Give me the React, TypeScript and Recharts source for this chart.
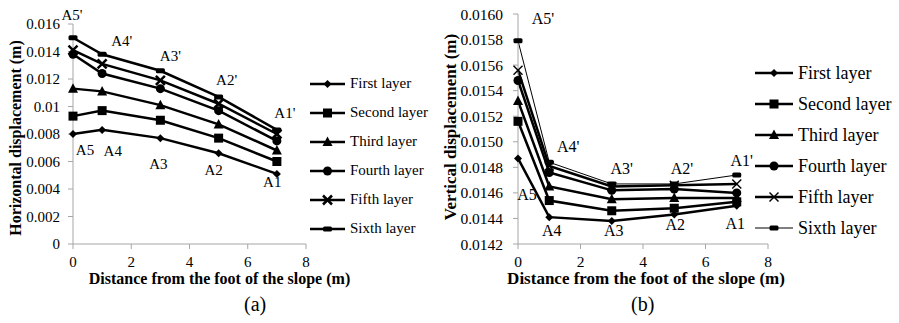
import React from 'react';
import {
  LineChart,
  Line,
  XAxis,
  YAxis,
  Label,
  Legend,
  ReferenceDot,
} from 'recharts';

const distances = [0, 1, 3, 5, 7];
const layerNames = ['First layer', 'Second layer', 'Third layer', 'Fourth layer', 'Fifth layer', 'Sixth layer'];

// horizontal displacement (m), chart (a)
const horizFirst = [0.008, 0.0083, 0.0077, 0.0066, 0.0051];
const horizSecond = [0.0093, 0.0097, 0.009, 0.0077, 0.006];
const horizThird = [0.0113, 0.0111, 0.0101, 0.0087, 0.0068];
const horizFourth = [0.0138, 0.0124, 0.0113, 0.0097, 0.0075];
const horizFifth = [0.0141, 0.0131, 0.0119, 0.0102, 0.008];
const horizSixth = [0.015, 0.0138, 0.0126, 0.0107, 0.0083];

// vertical displacement (m), chart (b)
const vertFirst = [0.01487, 0.01441, 0.01438, 0.01443, 0.0145];
const vertSecond = [0.01516, 0.01454, 0.01446, 0.01448, 0.01453];
const vertThird = [0.01532, 0.01465, 0.01455, 0.01456, 0.01456];
const vertFourth = [0.01548, 0.01476, 0.01462, 0.01463, 0.0146];
const vertFifth = [0.01556, 0.01481, 0.01465, 0.01466, 0.01467];
const vertSixth = [0.01579, 0.01484, 0.01467, 0.01467, 0.01474];

const xTicks = [0, 2, 4, 6, 8];
const horizTicks = [0, 0.002, 0.004, 0.006, 0.008, 0.01, 0.012, 0.014, 0.016];
const vertTicks = [0.0142, 0.0144, 0.0146, 0.0148, 0.015, 0.0152, 0.0154, 0.0156, 0.0158, 0.016];

const topLabels = ["A5'", "A4'", "A3'", "A2'", "A1'"];
const bottomLabels = ['A5', 'A4', 'A3', 'A2', 'A1'];

const FONT = "'Liberation Serif', 'Times New Roman', serif";
const AXIS_GRAY = '#a6a6a6';
const shapes = ['diamond', 'square', 'triangle', 'circle', 'cross', 'dash'];

const buildRows = (series: number[][]) =>
  distances.map((d, i) => {
    const row: Record<string, number> = { d };
    series.forEach((s, k) => (row['l' + k] = s[i]));
    return row;
  });

const rowsH = buildRows([horizFirst, horizSecond, horizThird, horizFourth, horizFifth, horizSixth]);
const rowsV = buildRows([vertFirst, vertSecond, vertThird, vertFourth, vertFifth, vertSixth]);

function Marker({ shape, cx, cy, thin }: { shape: string; cx: number; cy: number; thin?: boolean }) {
  switch (shape) {
    case 'diamond':
      return <polygon points={`${cx},${cy - 4} ${cx + 4},${cy} ${cx},${cy + 4} ${cx - 4},${cy}`} fill="#000" />;
    case 'square':
      return <rect x={cx - 4.5} y={cy - 4.5} width={9} height={9} fill="#000" />;
    case 'triangle':
      return <polygon points={`${cx},${cy - 5.5} ${cx + 5},${cy + 4} ${cx - 5},${cy + 4}`} fill="#000" />;
    case 'circle':
      return <circle cx={cx} cy={cy} r={4.5} fill="#000" />;
    case 'cross':
      return (
        <g stroke="#000" strokeWidth={thin ? 1.4 : 2.5}>
          <line x1={cx - 4.5} y1={cy - 4.5} x2={cx + 4.5} y2={cy + 4.5} />
          <line x1={cx - 4.5} y1={cy + 4.5} x2={cx + 4.5} y2={cy - 4.5} />
        </g>
      );
    default:
      return <rect x={cx - 4.5} y={cy - 2.5} width={9} height={5} rx={1.5} fill="#000" />;
  }
}

const dotFor = (shape: string, thin?: boolean) => (p: any) => (
  <Marker key={`${shape}-${p.index}`} shape={shape} cx={p.cx} cy={p.cy} thin={thin} />
);

const makeLegend = (fontSize: number, rowH: number, lineW: number, thinLast: boolean) => () => (
  <div style={{ fontFamily: FONT, fontSize, color: '#000', lineHeight: 1 }}>
    {layerNames.map((name, i) => {
      const thin = thinLast && i >= 4;
      return (
        <div key={name} style={{ display: 'flex', alignItems: 'center', height: rowH }}>
          <svg width={lineW + 2} height={14} style={{ display: 'block' }}>
            <line x1={1} x2={lineW + 1} y1={7} y2={7} stroke="#000" strokeWidth={thinLast && i === 5 ? 1 : 2.5} />
            <Marker shape={shapes[i]} cx={lineW / 2 + 1} cy={7} thin={thin} />
          </svg>
          <span style={{ marginLeft: 4, whiteSpace: 'nowrap', fontFamily: FONT }}>{name}</span>
        </div>
      );
    })}
  </div>
);

const annot = (text: string, dx: number, dy: number, size: number) => (p: any) => (
  <text
    x={p.viewBox.x + (p.viewBox.width || 0) / 2 + dx}
    y={p.viewBox.y + (p.viewBox.height || 0) / 2 + dy}
    textAnchor="middle"
    dominantBaseline="central"
    fontFamily={FONT}
    fontSize={size}
    fill="#000"
  >
    {text}
  </text>
);

const xTitle = (dx: number, size: number) => (p: any) => (
  <text
    x={p.viewBox.x + p.viewBox.width / 2 + dx}
    y={p.viewBox.y + 40}
    textAnchor="middle"
    fontFamily={FONT}
    fontWeight="bold"
    fontSize={size}
    fill="#000"
  >
    Distance from the foot of the slope (m)
  </text>
);

const yTitle = (text: string, x: number, dy: number, size: number) => (p: any) => {
  const y = p.viewBox.y + p.viewBox.height / 2 + dy;
  return (
    <text
      x={x}
      y={y}
      transform={`rotate(-90, ${x}, ${y})`}
      textAnchor="middle"
      dominantBaseline="central"
      fontFamily={FONT}
      fontWeight="bold"
      fontSize={size}
      fill="#000"
    >
      {text}
    </text>
  );
};

const hTop = [[-1, -23], [19.6, -12.8], [10, -15], [8, -17], [8, -17]];
const hBottom = [[12, 16], [10.6, 21.5], [-2, 25.6], [-5, 16.5], [-4.6, 8]];
const vTop = [[25, -22.5], [19, -15.5], [10, -15], [7.7, -15.7], [5, -14.6]];
const vBottom = [[9, 36], [2.5, 13], [2, 9], [1, 10], [-1.4, 18]];

export default function App() {
  const tick = (size: number) => ({ fill: '#000', fontSize: size, fontFamily: FONT });
  return (
    <div style={{ position: 'absolute', left: 0, top: 0, width: 899, height: 323, background: '#fff', fontFamily: FONT }}>
      {/* (a) horizontal */}
      <div style={{ position: 'absolute', left: 0, top: 0 }}>
        <LineChart width={450} height={323} data={rowsH} margin={{ top: 24, right: 144, bottom: 0, left: 0 }}>
          <XAxis
            dataKey="d"
            type="number"
            domain={[0, 8]}
            ticks={xTicks}
            height={79}
            tickSize={5}
            tickMargin={7}
            stroke={AXIS_GRAY}
            tick={tick(15)}
          >
            <Label content={xTitle(30, 16)} />
          </XAxis>
          <YAxis
            type="number"
            domain={[0, 0.016]}
            ticks={horizTicks}
            width={73}
            tickSize={5}
            tickMargin={8}
            stroke={AXIS_GRAY}
            tick={tick(15)}
            tickFormatter={(v: number) => String(+v.toFixed(3))}
          >
            <Label content={yTitle('Horizontal displacement (m)', 15, 4, 16)} />
          </YAxis>
          {shapes.map((s, k) => (
            <Line
              key={s}
              dataKey={'l' + k}
              name={layerNames[k]}
              stroke="#000"
              strokeWidth={2.5}
              dot={dotFor(s)}
              activeDot={false}
              isAnimationActive={false}
            />
          ))}
          {distances.map((d, i) => (
            <ReferenceDot key={'ht' + i} x={d} y={horizSixth[i]} r={0} stroke="none" fill="none" ifOverflow="visible"
              label={annot(topLabels[i], hTop[i][0], hTop[i][1], 15)} />
          ))}
          {distances.map((d, i) => (
            <ReferenceDot key={'hb' + i} x={d} y={horizFirst[i]} r={0} stroke="none" fill="none" ifOverflow="visible"
              label={annot(bottomLabels[i], hBottom[i][0], hBottom[i][1], 15)} />
          ))}
          <Legend
            layout="vertical"
            align="center"
            verticalAlign="middle"
            content={makeLegend(15, 29, 35, false)}
            wrapperStyle={{ left: 309, top: 69, width: 'auto' }}
          />
        </LineChart>
      </div>

      {/* (b) vertical */}
      <div style={{ position: 'absolute', left: 440, top: 0 }}>
        <LineChart width={459} height={323} data={rowsV} margin={{ top: 14, right: 131, bottom: 0, left: 0 }}>
          <XAxis
            dataKey="d"
            type="number"
            domain={[0, 8]}
            ticks={xTicks}
            height={79}
            tickSize={5}
            tickMargin={7}
            stroke={AXIS_GRAY}
            tick={tick(15.5)}
          >
            <Label content={xTitle(3, 17)} />
          </XAxis>
          <YAxis
            type="number"
            domain={[0.0142, 0.016]}
            ticks={vertTicks}
            width={78}
            tickSize={5}
            tickMargin={10}
            stroke={AXIS_GRAY}
            tick={tick(15.5)}
            tickFormatter={(v: number) => v.toFixed(4)}
          >
            <Label content={yTitle('Vertical displacement (m)', 10, -2, 17)} />
          </YAxis>
          {shapes.map((s, k) => (
            <Line
              key={s}
              dataKey={'l' + k}
              name={layerNames[k]}
              stroke="#000"
              strokeWidth={k === 5 ? 1 : 2.5}
              dot={dotFor(s, k === 4)}
              activeDot={false}
              isAnimationActive={false}
            />
          ))}
          {distances.map((d, i) => (
            <ReferenceDot key={'vt' + i} x={d} y={vertSixth[i]} r={0} stroke="none" fill="none" ifOverflow="visible"
              label={annot(topLabels[i], vTop[i][0], vTop[i][1], 16)} />
          ))}
          {distances.map((d, i) => (
            <ReferenceDot key={'vb' + i} x={d} y={vertFirst[i]} r={0} stroke="none" fill="none" ifOverflow="visible"
              label={annot(bottomLabels[i], vBottom[i][0], vBottom[i][1], 16)} />
          ))}
          <Legend
            layout="vertical"
            align="center"
            verticalAlign="middle"
            content={makeLegend(18, 31, 38, true)}
            wrapperStyle={{ left: 314, top: 57, width: 'auto' }}
          />
        </LineChart>
      </div>

      <div style={{ position: 'absolute', left: 244, top: 292, fontFamily: FONT, fontSize: 20, lineHeight: '24px' }}>(a)</div>
      <div style={{ position: 'absolute', left: 631, top: 292, fontFamily: FONT, fontSize: 20, lineHeight: '24px' }}>(b)</div>
    </div>
  );
}
